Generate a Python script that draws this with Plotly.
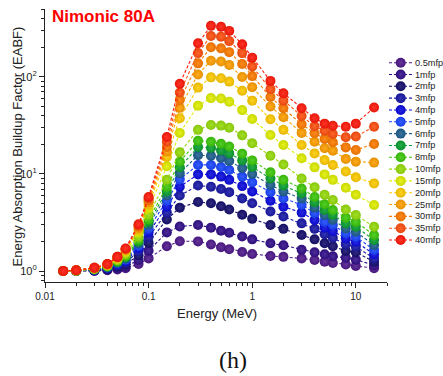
import plotly.graph_objects as go

# ---------------- data ----------------
energy = [0.015, 0.02, 0.03, 0.04, 0.05, 0.06, 0.08, 0.1, 0.15, 0.2, 0.3, 0.4, 0.5,
          0.6, 0.8, 1, 1.5, 2, 3, 4, 5, 6, 8, 10, 15]

series_names = ["0.5mfp", "1mfp", "2mfp", "3mfp", "4mfp", "5mfp", "6mfp", "7mfp",
                "8mfp", "10mfp", "15mfp", "20mfp", "25mfp", "30mfp", "35mfp", "40mfp"]

eabf_0_5 = [1.00, 1.00, 1.00, 1.02, 1.04, 1.07, 1.18, 1.35, 1.80, 2.03, 2.02, 1.88, 1.76, 1.68, 1.57, 1.50, 1.43, 1.40, 1.35, 1.30, 1.25, 1.21, 1.17, 1.13, 1.07]
eabf_1 = [1.00, 1.00, 1.01, 1.03, 1.07, 1.11, 1.30, 1.62, 2.50, 2.88, 2.98, 2.80, 2.60, 2.48, 2.27, 2.12, 1.93, 1.84, 1.66, 1.56, 1.49, 1.42, 1.37, 1.31, 1.15]
eabf_2 = [1.00, 1.00, 1.02, 1.05, 1.11, 1.17, 1.45, 1.95, 3.40, 4.50, 5.15, 5.00, 4.65, 4.30, 3.80, 3.45, 2.98, 2.72, 2.35, 2.12, 1.93, 1.80, 1.61, 1.56, 1.25]
eabf_3 = [1.00, 1.01, 1.02, 1.07, 1.14, 1.22, 1.60, 2.25, 4.00, 6.00, 7.60, 7.40, 7.00, 6.50, 5.60, 5.00, 4.10, 3.65, 3.10, 2.72, 2.39, 2.20, 1.88, 1.78, 1.35]
eabf_4 = [1.00, 1.01, 1.03, 1.08, 1.17, 1.27, 1.72, 2.50, 4.60, 7.40, 9.90, 9.90, 9.40, 8.70, 7.50, 6.60, 5.30, 4.60, 4.00, 3.35, 2.80, 2.58, 2.17, 2.00, 1.49]
eabf_5 = [1.00, 1.01, 1.03, 1.09, 1.20, 1.31, 1.82, 2.75, 5.30, 8.80, 12.4, 12.4, 11.8, 11.0, 9.40, 8.20, 6.50, 5.60, 4.80, 3.95, 3.22, 2.98, 2.45, 2.26, 1.65]
eabf_6 = [1.00, 1.01, 1.04, 1.10, 1.22, 1.35, 1.92, 3.00, 6.00, 10.2, 15.6, 15.4, 14.6, 13.6, 11.5, 10.0, 7.70, 6.60, 5.60, 4.50, 3.78, 3.36, 2.75, 2.54, 1.85]
eabf_7 = [1.00, 1.01, 1.04, 1.11, 1.24, 1.39, 2.00, 3.20, 6.60, 11.7, 19.0, 18.5, 17.5, 16.3, 13.8, 11.8, 9.00, 7.60, 6.30, 5.10, 4.25, 3.78, 3.10, 2.86, 2.09]
eabf_8 = [1.00, 1.01, 1.05, 1.12, 1.26, 1.42, 2.10, 3.40, 7.40, 13.4, 22.0, 21.5, 20.5, 19.2, 16.2, 13.8, 10.4, 8.70, 7.10, 5.80, 4.87, 4.25, 3.55, 3.22, 2.35]
eabf_10 = [1.00, 1.01, 1.05, 1.13, 1.29, 1.48, 2.25, 3.80, 8.70, 16.7, 28.5, 32.0, 31.5, 30.0, 25.0, 20.7, 15.4, 12.5, 9.00, 7.30, 6.10, 5.40, 4.30, 3.78, 2.86]
eabf_15 = [1.00, 1.01, 1.06, 1.15, 1.33, 1.56, 2.50, 4.40, 12.0, 26.5, 50.6, 60.5, 60.0, 55.6, 45.5, 36.8, 25.2, 19.9, 14.5, 11.7, 9.90, 8.70, 7.20, 6.10, 4.80]
eabf_20 = [1.00, 1.02, 1.07, 1.16, 1.36, 1.62, 2.65, 4.80, 15.0, 37.5, 77.6, 99.0, 97.0, 89.5, 72.0, 57.0, 36.6, 28.5, 19.9, 16.3, 13.9, 12.4, 10.6, 9.25, 8.00]
eabf_25 = [1.00, 1.02, 1.07, 1.17, 1.38, 1.66, 2.78, 5.10, 17.0, 48.0, 106, 147, 144, 133, 100, 78.5, 49.5, 38.5, 26.5, 21.5, 18.4, 17.4, 14.3, 13.4, 13.1]
eabf_30 = [1.00, 1.02, 1.08, 1.17, 1.39, 1.68, 2.88, 5.35, 19.0, 58.0, 138, 202, 197, 180, 136, 102, 62.0, 47.5, 32.5, 26.3, 23.0, 21.2, 18.8, 17.7, 20.4]
eabf_35 = [1.00, 1.02, 1.08, 1.18, 1.40, 1.70, 2.96, 5.60, 21.5, 69.0, 176, 264, 260, 234, 176, 128, 75.0, 57.0, 39.5, 31.0, 27.9, 25.8, 23.9, 24.3, 30.7]
eabf_40 = [1.00, 1.02, 1.08, 1.18, 1.40, 1.71, 3.03, 5.80, 24.0, 85.0, 222, 336, 328, 298, 217, 158, 91.0, 68.0, 47.5, 37.5, 33.0, 31.4, 30.7, 33.0, 48.4]

series_values = [eabf_0_5, eabf_1, eabf_2, eabf_3, eabf_4, eabf_5, eabf_6, eabf_7,
                 eabf_8, eabf_10, eabf_15, eabf_20, eabf_25, eabf_30, eabf_35, eabf_40]

series_colors = ["#4f1a8c", "#33108a", "#16106e", "#1a1aa8", "#0a0ae0", "#1a46ff",
                 "#1f5f90", "#0aa032", "#3cc80a", "#96dc0a", "#e1f000", "#ffcc00",
                 "#ffa000", "#ff7c00", "#ff5010", "#ff1a0a"]

x_tick_vals = [0.01, 0.1, 1, 10]
x_tick_text = ["0.01", "0.1", "1", "10"]
y_tick_vals = [1, 10, 100]
y_tick_text = ["10<sup>0</sup>", "10<sup>1</sup>", "10<sup>2</sup>"]


def mix(hexcol, f, target):
    h = hexcol.lstrip("#")
    r, g, b = (int(h[i:i + 2], 16) for i in (0, 2, 4))
    r = int(r + (target - r) * f)
    g = int(g + (target - g) * f)
    b = int(b + (target - b) * f)
    return f"rgb({r},{g},{b})"


FONT = "Liberation Sans, Arial, sans-serif"

W, H = 443, 376
PL, PT, PB = 45, 9, 282  # plot left/top/bottom in px
PW, PH = W - PL, PB - PT


def px_x(page_x):
    return (page_x - PL) / PW


def px_y(page_y):
    return (PB - page_y) / PH


def marker_style(col, size):
    return dict(size=size, color=mix(col, 0.1, 0), line=dict(width=0),
                gradient=dict(type="radial", color=mix(col, 0.12, 255)))


fig = go.Figure()

for name, vals, col in zip(series_names, series_values, series_colors):
    fig.add_trace(go.Scatter(
        x=energy, y=vals, name=name, mode="lines+markers",
        line=dict(color=col, width=1.1, dash="3px,2px"),
        marker=marker_style(col, 10),
        showlegend=False, xaxis="x", yaxis="y",
    ))

# compact legend drawn on an auxiliary axis
KEY_LINE_X = [1.0, 24.0]
KEY_DOT_X = [12.7]
for i, (name, col) in enumerate(zip(series_names, series_colors)):
    fig.add_trace(go.Scatter(
        x=KEY_LINE_X, y=[i] * 2, mode="lines",
        line=dict(color=col, width=1.1, dash="3px,2px"),
        showlegend=False, hoverinfo="skip", xaxis="x2", yaxis="y2",
    ))
    fig.add_trace(go.Scatter(
        x=KEY_DOT_X, y=[i], mode="markers",
        marker=marker_style(col, 10),
        showlegend=False, hoverinfo="skip", xaxis="x2", yaxis="y2",
    ))
    fig.add_annotation(x=25.0, y=i, xref="x2", yref="y2", text=name,
                       showarrow=False, xanchor="left", yanchor="middle",
                       font=dict(family=FONT, size=9.2, color="#222"))

minor_x = [m * 10 ** k for k in range(-2, 2) for m in range(2, 10)]
minor_y = [m * 10 ** k for k in range(-1, 3) for m in range(2, 10)]

fig.update_layout(
    width=W, height=H,
    margin=dict(l=PL, r=0, t=PT, b=H - PB, pad=0),
    paper_bgcolor="white", plot_bgcolor="white",
    font=dict(family=FONT, color="#222"),
    xaxis=dict(type="log", domain=[0, 342 / PW], range=[-2, 1.301],
               tickvals=x_tick_vals, ticktext=x_tick_text,
               ticks="outside", ticklen=5, tickwidth=1, tickcolor="#222",
               showline=True, linecolor="#222", linewidth=1.2, mirror=False,
               showgrid=False, zeroline=False,
               tickfont=dict(size=10, family=FONT, color="#222"),
               minor=dict(tickvals=minor_x, ticks="outside", ticklen=3,
                          tickcolor="#222", showgrid=False)),
    yaxis=dict(type="log", domain=[0, 1], range=[-0.113, 2.70],
               tickvals=y_tick_vals, ticktext=y_tick_text,
               ticks="outside", ticklen=5, tickwidth=1, tickcolor="#222",
               showline=True, linecolor="#222", linewidth=1.2, mirror=False,
               showgrid=False, zeroline=False,
               tickfont=dict(size=11, family=FONT, color="#222"),
               minor=dict(tickvals=minor_y, ticks="outside", ticklen=3,
                          tickcolor="#222", showgrid=False)),
    xaxis2=dict(domain=[(388 - PL) / PW, 1], range=[0, 55], visible=False,
                anchor="y2", fixedrange=True),
    yaxis2=dict(domain=[0, 1], range=[18.55, -4.54], visible=False,
                anchor="x2", fixedrange=True),
)

fig.add_annotation(x=px_x(50), y=px_y(16), xref="paper", yref="paper",
                   text="<b>Nimonic 80A</b>", showarrow=False,
                   xanchor="left", yanchor="middle",
                   font=dict(family=FONT, size=17, color="#ff0000"))
fig.add_annotation(x=px_x(216.5), y=px_y(313), xref="paper", yref="paper",
                   text="Energy (MeV)", showarrow=False,
                   xanchor="center", yanchor="middle",
                   font=dict(family=FONT, size=13, color="#222"))
fig.add_annotation(x=px_x(17), y=px_y(146.5), xref="paper", yref="paper",
                   text="Energy Absorption Buildup Factor (EABF)", showarrow=False,
                   textangle=-90, xanchor="center", yanchor="middle",
                   font=dict(family=FONT, size=13, color="#222"))
fig.add_annotation(x=px_x(233), y=px_y(360), xref="paper", yref="paper",
                   text="(h)", showarrow=False, xanchor="center", yanchor="middle",
                   font=dict(family="Liberation Serif, Times New Roman, serif", size=24, color="#111"))

fig.write_html(
    "out.html",
    config={"displayModeBar": False},
    post_script="document.body.style.margin='0';document.body.style.overflow='hidden';",
)
